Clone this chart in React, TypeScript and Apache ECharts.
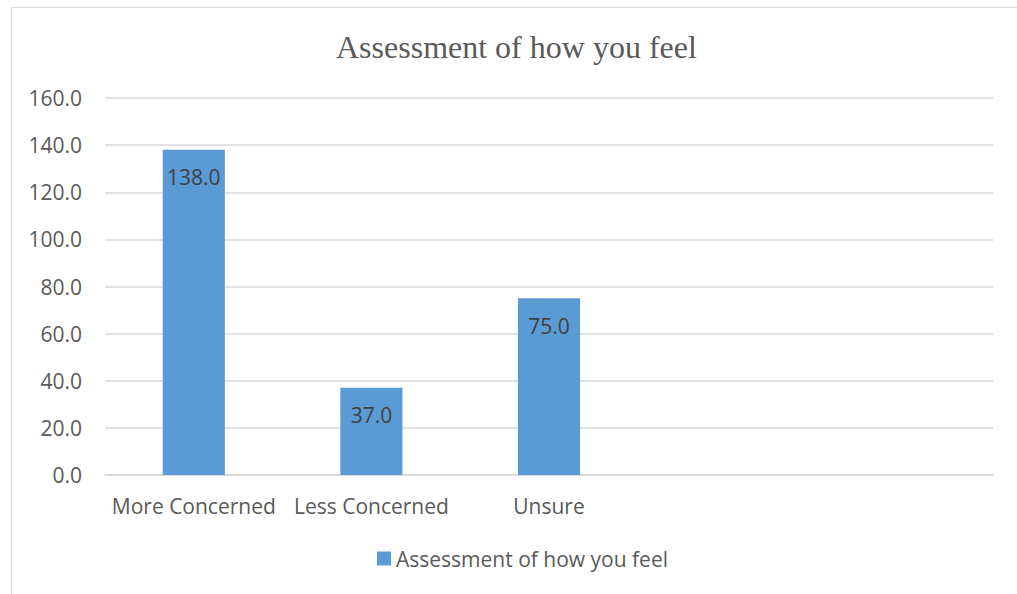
import React, { useEffect, useRef } from "react";
import * as echarts from "echarts";

// Survey responses, one bar per answer; the two trailing slots are empty categories.
const categories = ["More Concerned", "Less Concerned", "Unsure", "", ""];
const seriesName = "Assessment of how you feel";
const values: (number | null)[] = [138, 37, 75, null, null];
const yMin = 0;
const yMax = 160;
const yStep = 20;

const SANS = "'Open Sans', 'Noto Sans', sans-serif";

export default function App() {
  const ref = useRef<HTMLDivElement>(null);

  useEffect(() => {
    if (!ref.current) return;
    const chart = echarts.init(ref.current, null, { renderer: "svg" });
    chart.setOption({
      animation: false,
      backgroundColor: "#ffffff",
      title: {
        text: seriesName,
        left: 331,
        top: 26,
        textStyle: {
          fontFamily: "'Liberation Serif', 'DejaVu Serif', serif",
          fontSize: 32,
          fontWeight: "normal",
          color: "#595959",
        },
      },
      graphic: [
        {
          type: "rect",
          shape: { x: 11.5, y: 7.5, width: 1200, height: 800 },
          style: { fill: "none", stroke: "#d9d9d9", lineWidth: 1 },
          silent: true,
        },
      ],
      legend: {
        left: 372,
        top: 543,
        itemWidth: 14,
        itemHeight: 14,
        icon: "rect",
        textStyle: { fontFamily: SANS, fontSize: 21, color: "#595959" },
        data: [seriesName],
      },
      grid: { left: 105, right: 24, top: 98, bottom: 119, containLabel: false },
      xAxis: {
        type: "category",
        data: categories,
        axisLine: { show: true, lineStyle: { color: "#d9d9d9", width: 1.5 } },
        axisTick: { show: false },
        axisLabel: {
          fontFamily: SANS,
          fontSize: 21,
          color: "#595959",
          margin: 20,
          interval: 0,
        },
      },
      yAxis: {
        type: "value",
        min: yMin,
        max: yMax,
        interval: yStep,
        axisLine: { show: false },
        axisTick: { show: false },
        splitLine: { lineStyle: { color: "#d9d9d9", width: 1.5 } },
        axisLabel: {
          fontFamily: SANS,
          fontSize: 21,
          color: "#595959",
          margin: 23,
          formatter: (v: number) => v.toFixed(1),
        },
      },
      series: [
        {
          name: seriesName,
          type: "bar",
          data: values,
          barWidth: "35%",
          itemStyle: { color: "#5b9bd5" },
          label: {
            show: true,
            position: "insideTop",
            distance: 17,
            fontFamily: SANS,
            fontSize: 21,
            color: "#404040",
            formatter: (p: any) => (p.value == null ? "" : Number(p.value).toFixed(1)),
          },
        },
      ],
    });
    return () => chart.dispose();
  }, []);

  return (
    <div
      ref={ref}
      style={{ position: "fixed", left: 0, top: 0, width: 1017, height: 594 }}
    />
  );
}
